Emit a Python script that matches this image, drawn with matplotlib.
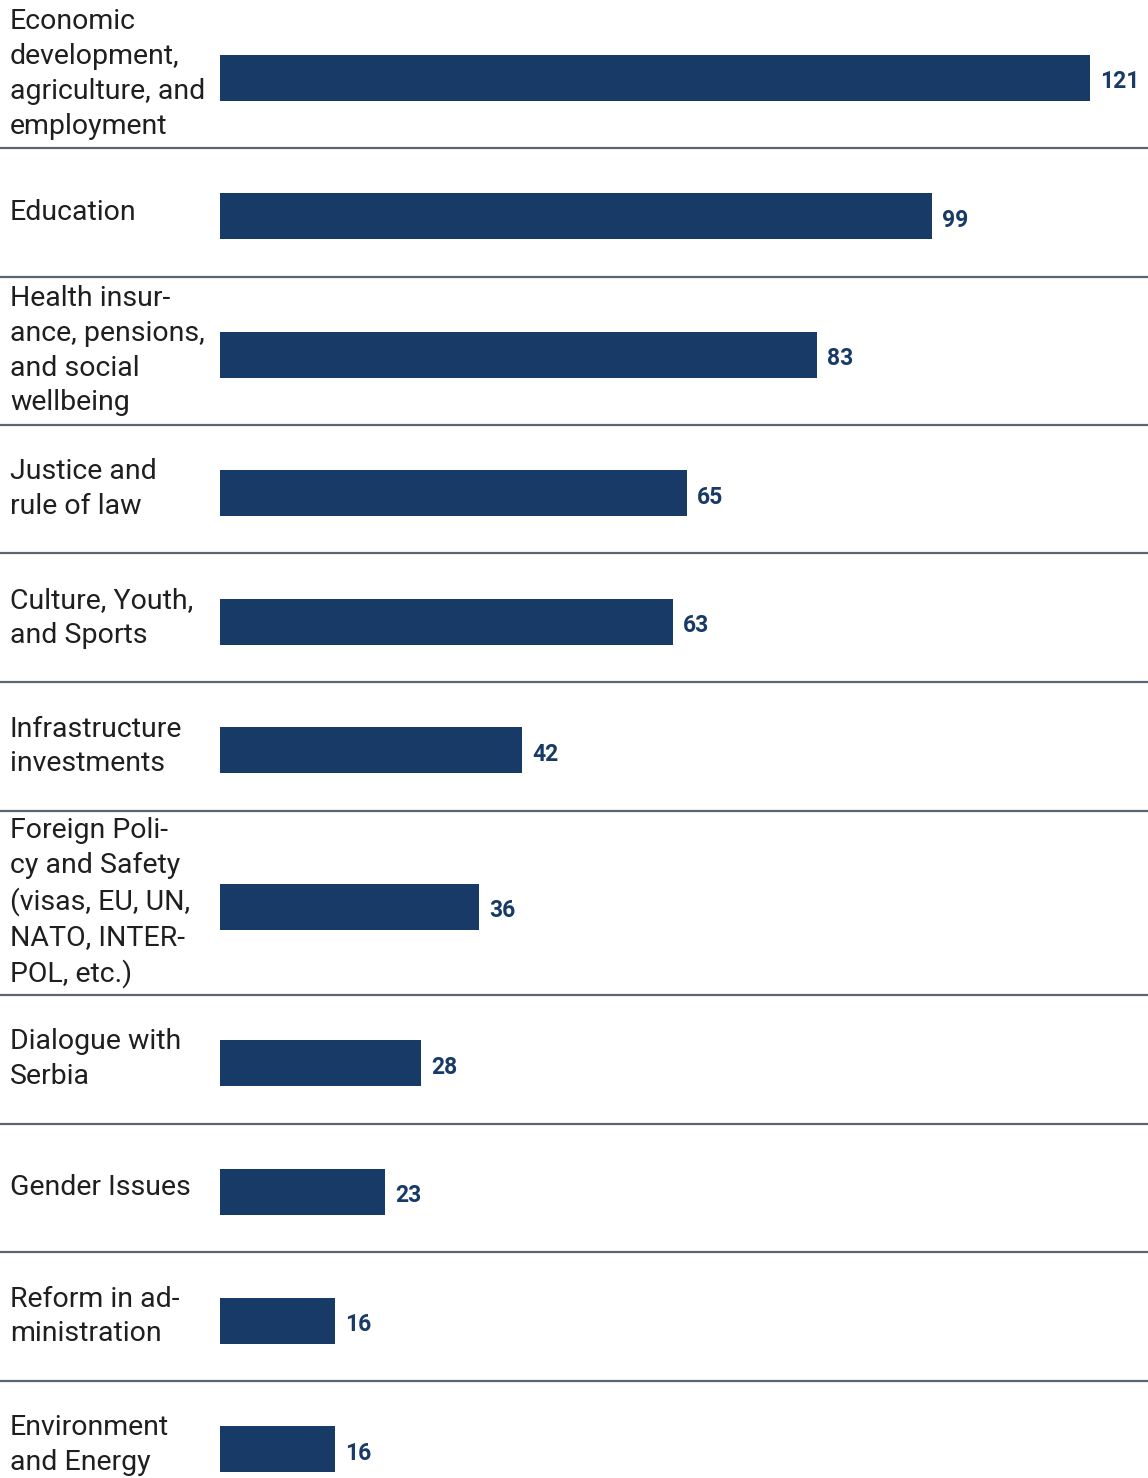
import matplotlib
matplotlib.use("Agg")
import matplotlib.pyplot as plt

categories = [
    "Economic\ndevelopment,\nagriculture, and\nemployment",
    "Education",
    "Health insur-\nance, pensions,\nand social\nwellbeing",
    "Justice and\nrule of law",
    "Culture, Youth,\nand Sports",
    "Infrastructure\ninvestments",
    "Foreign Poli-\ncy and Safety\n(visas, EU, UN,\nNATO, INTER-\nPOL, etc.)",
    "Dialogue with\nSerbia",
    "Gender Issues",
    "Reform in ad-\nministration",
    "Environment\nand Energy",
]
values = [121, 99, 83, 65, 63, 42, 36, 28, 23, 16, 16]

BAR_COLOR = "#183a66"
LINE_COLOR = "#5b6673"
TEXT_COLOR = "#1f1f1f"

W, H, DPI = 1148, 1478, 100
fig = plt.figure(figsize=(W / DPI, H / DPI), dpi=DPI)
ax = fig.add_axes([0, 0, 1, 1])

# horizontal scale: pixels per unit, bars start at a fixed left gutter
px_per_unit = 7.19
gutter = 220
ax.set_xlim(-gutter / px_per_unit, (W - gutter) / px_per_unit)
ax.set_ylim(H, 0)
ax.axis("off")

line_px = 36
min_row = 128.7
top = 0.0
for i, (cat, val) in enumerate(zip(categories, values)):
    n_lines = cat.count("\n") + 1
    row_h = max(min_row, n_lines * line_px + 4)
    centre = top + row_h / 2
    bar_y = centre + 4
    ax.barh(bar_y, val, height=46, left=0, color=BAR_COLOR)
    ax.text(-210 / px_per_unit, centre, cat, ha="left", va="center",
            fontsize=20.5, family="Roboto", color=TEXT_COLOR,
            linespacing=1.37)
    ax.text(val + 10 / px_per_unit, bar_y + 4, str(val), ha="left",
            va="center", fontsize=16.5, fontweight="bold", family="Roboto",
            color=BAR_COLOR)
    top += row_h
    if i < len(categories) - 1:
        ax.plot([ax.get_xlim()[0], ax.get_xlim()[1]], [top, top],
                color=LINE_COLOR, lw=1.6, solid_capstyle="butt")

fig.savefig("out.png", dpi=DPI, facecolor="white")
